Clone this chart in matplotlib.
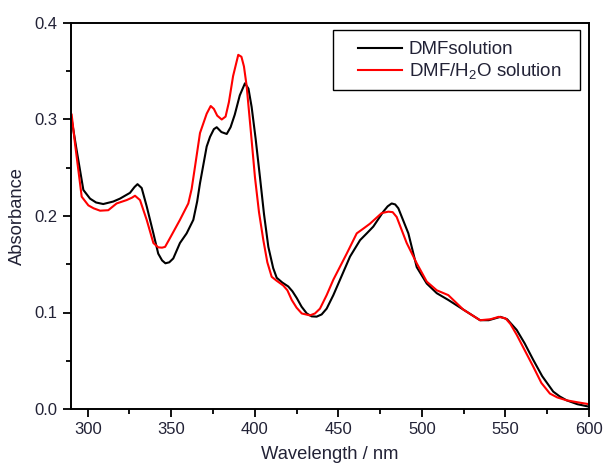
import matplotlib

matplotlib.use("Agg")
import matplotlib.pyplot as plt
from matplotlib.patches import Rectangle
from matplotlib.ticker import FormatStrFormatter, MultipleLocator

plt.rcParams["font.family"] = ["Liberation Sans", "DejaVu Sans"]
plt.rcParams["mathtext.default"] = "regular"

# DMF solution (black)
wl_dmf = [290.4, 293.4, 297.4, 301.4, 305.0, 309.3, 315.3, 319.3, 325.3, 328.0,
          329.8, 332.3, 335.3, 339.3, 342.2, 344.5, 346.5, 348.8, 351.2, 355.2,
          359.2, 363.2, 365.5, 367.2, 371.2, 373.2, 375.5, 377.2, 380.0, 383.2,
          385.5, 388.0, 391.0, 394.1, 396.2, 398.1, 400.5, 403.1, 405.5, 408.1,
          411.0, 413.1, 416.5, 420.0, 422.5, 425.1, 428.0, 431.1, 434.0, 437.0,
          440.0, 443.0, 447.0, 451.0, 457.0, 463.0, 467.0, 470.9, 476.9, 479.5,
          481.9, 484.0, 485.9, 491.9, 496.9, 502.9, 508.9, 515.8, 524.8, 534.8,
          540.0, 547.0, 551.0, 556.7, 561.5, 566.6, 572.0, 578.6, 582.5, 586.6,
          593.0, 600.0]
abs_dmf = [0.300, 0.268, 0.227, 0.218, 0.214, 0.2124, 0.215, 0.218, 0.224, 0.230,
           0.233, 0.229, 0.210, 0.182, 0.161, 0.154, 0.151, 0.152, 0.156, 0.172,
           0.182, 0.196, 0.215, 0.234, 0.272, 0.282, 0.290, 0.292, 0.287, 0.285,
           0.292, 0.305, 0.325, 0.3375, 0.332, 0.313, 0.280, 0.240, 0.202, 0.168,
           0.146, 0.136, 0.131, 0.127, 0.122, 0.115, 0.106, 0.099, 0.096, 0.0957,
           0.098, 0.104, 0.118, 0.134, 0.158, 0.175, 0.182, 0.189, 0.2045, 0.210,
           0.213, 0.212, 0.208, 0.182, 0.147, 0.130, 0.120, 0.113, 0.103, 0.092,
           0.092, 0.0955, 0.093, 0.082, 0.068, 0.051, 0.034, 0.018, 0.013, 0.009,
           0.005, 0.0024]

# DMF/H2O solution (red)
wl_mix = [290.4, 292.4, 296.4, 300.4, 303.5, 307.4, 312.3, 317.3, 323.3, 326.5,
          328.3, 331.3, 335.3, 339.3, 342.2, 344.5, 346.3, 349.2, 355.2, 360.2,
          362.2, 364.2, 367.2, 371.2, 373.6, 375.5, 377.5, 380.2, 382.5, 384.5,
          387.0, 390.1, 392.0, 393.5, 395.1, 397.5, 400.1, 402.5, 405.1, 407.5,
          410.1, 413.0, 417.0, 419.5, 422.1, 425.0, 428.1, 433.0, 436.0, 439.0,
          443.0, 447.0, 455.0, 461.0, 465.0, 468.9, 475.9, 479.9, 482.5, 484.9,
          490.9, 496.9, 502.9, 508.9, 515.8, 524.8, 534.8, 541.0, 546.0, 550.0,
          553.0, 556.7, 561.5, 566.6, 571.5, 576.6, 581.0, 586.6, 593.0, 600.0]
abs_mix = [0.305, 0.275, 0.220, 0.211, 0.208, 0.2055, 0.206, 0.213, 0.2165, 0.219,
           0.221, 0.2165, 0.196, 0.172, 0.1675, 0.1672, 0.168, 0.177, 0.196, 0.213,
           0.228, 0.251, 0.286, 0.306, 0.314, 0.311, 0.304, 0.300, 0.303, 0.318,
           0.345, 0.367, 0.365, 0.355, 0.335, 0.290, 0.240, 0.204, 0.175, 0.152,
           0.137, 0.133, 0.128, 0.123, 0.113, 0.105, 0.099, 0.097, 0.099, 0.104,
           0.118, 0.134, 0.161, 0.182, 0.187, 0.192, 0.203, 0.2045, 0.204, 0.199,
           0.172, 0.151, 0.132, 0.123, 0.118, 0.103, 0.092, 0.093, 0.0955, 0.094,
           0.088, 0.077, 0.061, 0.044, 0.027, 0.016, 0.012, 0.009, 0.007, 0.005]

fig = plt.figure(figsize=(6.04, 4.68), dpi=100)
ax = fig.add_axes([71 / 604, 59 / 468, 518 / 604, 386 / 468])

ax.plot(wl_dmf, abs_dmf, color="black", lw=1.5, label="DMFsolution")
ax.plot(wl_mix, abs_mix, color="#ff0000", lw=1.5, label="DMF/H$_2$O solution")

ax.set_xlim(290, 600)
ax.set_ylim(0, 0.4)
ax.xaxis.set_major_locator(MultipleLocator(50))
ax.xaxis.set_minor_locator(MultipleLocator(25))
ax.yaxis.set_major_locator(MultipleLocator(0.1))
ax.yaxis.set_minor_locator(MultipleLocator(0.05))
ax.yaxis.set_major_formatter(FormatStrFormatter("%.1f"))

txt = "#222236"
ax.tick_params(which="major", direction="out", length=6, width=1.3, labelsize=12,
               labelcolor=txt)
ax.tick_params(which="minor", direction="out", length=3.5, width=1.3)
ax.tick_params(top=False, right=False)
for s in ax.spines.values():
    s.set_linewidth(1.4)

ax.set_xlabel("Wavelength / nm", fontsize=13.2, color=txt, labelpad=6)
ax.set_ylabel("Absorbance", fontsize=13.2, color=txt, labelpad=6)

# legend frame drawn separately so the padding matches the original
ax.add_patch(Rectangle((0.5058, 0.8264), 0.4768, 0.1555, transform=ax.transAxes,
                       facecolor="white", edgecolor="black", lw=1.0, zorder=4))
leg = ax.legend(loc="upper left", bbox_to_anchor=(0.554, 0.953), borderaxespad=0,
                borderpad=0, frameon=False, fontsize=13.5, handlelength=2.35,
                handletextpad=0.37, labelspacing=0.17)
leg.set_zorder(5)
for t in leg.get_texts():
    t.set_color(txt)

fig.savefig("out.png", dpi=100)
